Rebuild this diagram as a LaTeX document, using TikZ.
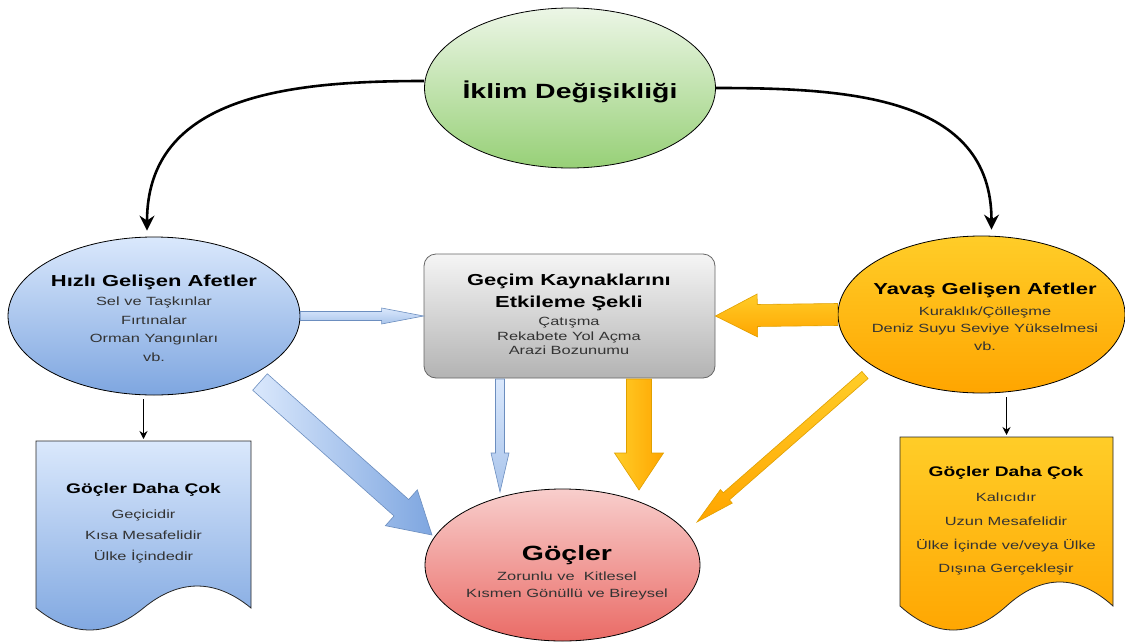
\documentclass[tikz,border=0pt]{standalone}
\usepackage{fontspec}
\setmainfont{Liberation Sans}[FakeStretch=1.38]
\usetikzlibrary{shapes.geometric,calc,arrows.meta}
\definecolor{blueT}{HTML}{DAE8FC}
\definecolor{blueB}{HTML}{7EA6E0}
\definecolor{blueM}{HTML}{A9C4EB}
\definecolor{blueD}{HTML}{6C8EBF}
\definecolor{orT}{HTML}{FFCD28}
\definecolor{orB}{HTML}{FFA500}
\definecolor{orD}{HTML}{E0A000}
\definecolor{grT}{HTML}{ECF6E6}
\definecolor{grB}{HTML}{97D077}
\definecolor{gyT}{HTML}{F5F5F5}
\definecolor{gyB}{HTML}{B3B3B3}
\definecolor{gyD}{HTML}{666666}
\definecolor{rdT}{HTML}{F8CECC}
\definecolor{rdB}{HTML}{EA6B66}
\definecolor{txtB}{HTML}{333333}
\newcommand\fBig{\fontsize{20.6}{24}\selectfont\bfseries}
\newcommand\fHead{\fontsize{15.9}{19}\selectfont\bfseries}
\newcommand\fDoc{\fontsize{13.9}{17}\selectfont\bfseries}
\newcommand\fBody{\fontsize{11.9}{15}\selectfont\color{txtB}}
\newcommand\tline[5]{\node[anchor=base,inner sep=0pt,#4] (#1) at (#2,#3) {#5};}
\newcommand\blockarrow[6]{%
  \coordinate (bah) at ($(#3)!#6!(#2)$);
  \draw[#1] ($(#2)!#4!90:(#3)$) -- ($(bah)!#4!90:(#3)$) -- ($(bah)!#5!90:(#3)$) -- (#3)
    -- ($(bah)!#5!-90:(#3)$) -- ($(bah)!#4!-90:(#3)$) -- ($(#2)!#4!-90:(#3)$) -- cycle;}
\tikzset{
  ell/.style={ellipse, draw=black, line width=0.8pt, inner sep=0pt},
  bluearrow/.style={draw=blueD, line width=0.6pt, left color=blueT, right color=blueB},
  bluelight/.style={draw=blueD, line width=0.6pt, top color=blueT, bottom color=blueM},
  orarrow/.style={draw=orD, line width=0.6pt, left color=orT, right color=orB},
  orflat/.style={draw=orD, line width=0.6pt, top color=orT, bottom color=orB},
  curvearrow/.style={line width=2.6pt, -{Stealth[length=15pt,width=15pt,inset=5pt]}},
  smallarrow/.style={line width=1.1pt, -{Stealth[length=8pt,width=8pt]}},
  docshape/.style={draw=black!85, line width=0.8pt}
}
\begin{document}
\begin{tikzpicture}[x=1pt,y=-1pt]
\useasboundingbox[fill=white] (0,0) rectangle (1125,643);

% main shapes
\node[ell, minimum width=291pt, minimum height=160pt, top color=grT, bottom color=grB] (iklim) at (570,88) {};
\node[ell, minimum width=292pt, minimum height=158pt, top color=blueT, bottom color=blueB] (hizli) at (154,316) {};
\node[ell, minimum width=287pt, minimum height=157pt, top color=orT, bottom color=orB] (yavas) at (981.5,314.5) {};
\node[ell, minimum width=275pt, minimum height=152pt, top color=rdT, bottom color=rdB] (gocler) at (562.5,565) {};
\node[rectangle, rounded corners=12pt, draw=gyD, line width=0.8pt, minimum width=291pt, minimum height=124pt, top color=gyT, bottom color=gyB] (gecim) at (569.5,316) {};

% documents
\coordinate (ldoc) at (143.5,441);
\coordinate (rdoc) at (1006.5,437);
\draw[docshape, top color=blueT, bottom color=blueB]
  (36,441) -- (251,441) -- (251,608)
  .. controls (215.2,578.7) and (179.3,578.7) .. (143.5,608)
  .. controls (107.7,637.3) and (71.8,637.3) .. (36,608) -- cycle;
\draw[docshape, top color=orT, bottom color=orB]
  (900,437) -- (1113,437) -- (1113,606)
  .. controls (1077.5,574) and (1042,574) .. (1006.5,606)
  .. controls (971,638) and (935.5,638) .. (900,606) -- cycle;

% curved arrows
\draw[curvearrow] ([yshift=7pt]iklim.west) to[out=180,in=90,looseness=1.1] ([xshift=-7pt,yshift=6pt]hizli.north);
\draw[curvearrow] (iklim.east) to[out=0,in=90,looseness=1.1] ([xshift=10pt,yshift=6pt]yavas.north);

% small arrows
\draw[smallarrow] ([yshift=-4pt]ldoc |- hizli.south) -- ([yshift=2pt]ldoc);
\draw[smallarrow] ([yshift=-4pt]rdoc |- yavas.south) -- ([yshift=2pt]rdoc);

% block arrows
\coordinate (b2a) at (260,382);
\coordinate (b2b) at (432,535);
\coordinate (b3a) at (500,379);
\coordinate (b3b) at (500,492);
\coordinate (b4a) at (639,379);
\coordinate (b4b) at (639,490);
\coordinate (b6a) at (865,375);
\coordinate (b6b) at (697,522);
\blockarrow{bluelight}{hizli.east}{gecim.west}{4.5pt}{8pt}{42pt}
\blockarrow{bluearrow}{b2a}{b2b}{11pt}{24pt}{41pt}
\blockarrow{bluelight}{b3a}{b3b}{4.5pt}{9pt}{39pt}
\blockarrow{orarrow}{b4a}{b4b}{12.5pt}{24.5pt}{37pt}
\blockarrow{orflat}{yavas.west}{gecim.east}{11pt}{21.5pt}{42pt}
\blockarrow{orflat}{b6a}{b6b}{4.7pt}{9pt}{39pt}

% texts
\tline{t1}{570}{98}{font=\fBig}{İklim Değişikliği}

\tline{h1}{154}{286}{font=\fHead}{Hızlı Gelişen Afetler}
\tline{h2}{154}{305}{font=\fBody}{Sel ve Taşkınlar}
\tline{h3}{154}{324}{font=\fBody}{Fırtınalar}
\tline{h4}{154}{342}{font=\fBody}{Orman Yangınları}
\tline{h5}{154}{361}{font=\fBody}{vb.}

\tline{g1}{569}{285}{font=\fHead}{Geçim Kaynaklarını}
\tline{g2}{569}{307}{font=\fHead}{Etkileme Şekli}
\tline{g3}{569}{325}{font=\fBody}{Çatışma}
\tline{g4}{569}{340}{font=\fBody}{Rekabete Yol Açma}
\tline{g5}{569}{354}{font=\fBody}{Arazi Bozunumu}

\tline{y1}{985}{294}{font=\fHead}{Yavaş Gelişen Afetler}
\tline{y2}{985}{315}{font=\fBody}{Kuraklık/Çölleşme}
\tline{y3}{985}{332}{font=\fBody}{Deniz Suyu Seviye Yükselmesi}
\tline{y4}{985}{350}{font=\fBody}{vb.}

\tline{r1}{567}{560}{font=\fBig}{Göçler}
\tline{r2}{567}{580}{font=\fBody}{Zorunlu ve \ Kitlesel}
\tline{r3}{567}{597}{font=\fBody}{Kısmen Gönüllü ve Bireysel}

\tline{l1}{143.5}{493}{font=\fDoc}{Göçler Daha Çok}
\tline{l2}{143.5}{518}{font=\fBody}{Geçicidir}
\tline{l3}{143.5}{539}{font=\fBody}{Kısa Mesafelidir}
\tline{l4}{143.5}{560}{font=\fBody}{Ülke İçindedir}

\tline{d1}{1006}{476}{font=\fDoc}{Göçler Daha Çok}
\tline{d2}{1006}{501}{font=\fBody}{Kalıcıdır}
\tline{d3}{1006}{525}{font=\fBody}{Uzun Mesafelidir}
\tline{d4}{1006}{549}{font=\fBody}{Ülke İçinde ve/veya Ülke}
\tline{d5}{1006}{572}{font=\fBody}{Dışına Gerçekleşir}
\end{tikzpicture}
\end{document}
